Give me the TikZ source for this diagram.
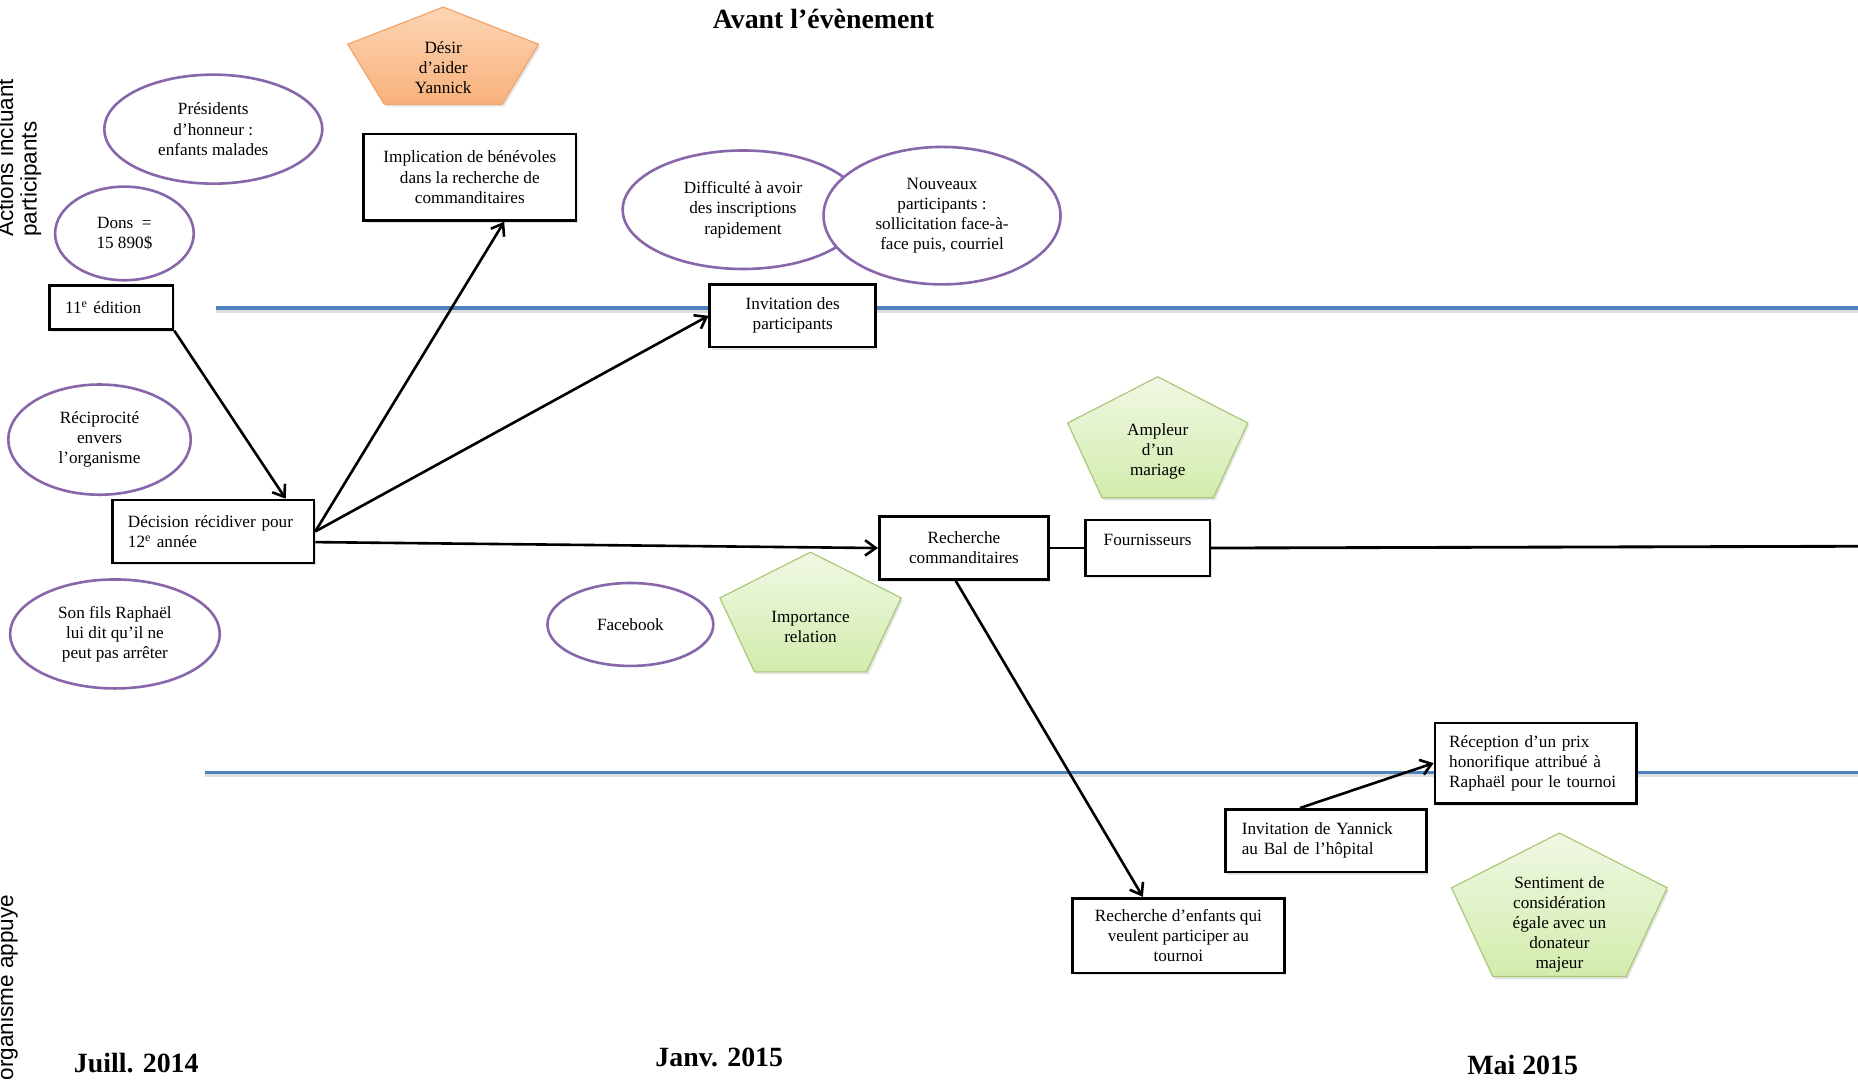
\documentclass[tikz,border=0pt]{standalone}
\usepackage{fontspec}
\setmainfont{Liberation Serif}
\setsansfont{Liberation Sans}
\usetikzlibrary{arrows.meta,shapes.geometric,shadows}

\definecolor{bandblue}{HTML}{4F81BD}
\definecolor{ovalpurple}{HTML}{8767AA}
\definecolor{greentop}{HTML}{F0F8E4}
\definecolor{greenbot}{HTML}{D2ECAC}
\definecolor{greenline}{HTML}{A8C878}
\definecolor{orangetop}{HTML}{FCD5B4}
\definecolor{orangebot}{HTML}{F8B17C}
\definecolor{orangeline}{HTML}{F3A469}

\newcommand\bodyfont{\fontsize{14.5}{17}\selectfont}
\newcommand\headfont{\fontsize{23.5}{28}\selectfont\bfseries}

% pentagon: name, centre x, top y, width, height, style, text y, text
\newcommand\pentagone[8]{%
  \path[#6] (#2,#3) -- ({#2+#4/2},{#3+0.382*#5}) -- ({#2+0.309*#4},{#3+#5})
    -- ({#2-0.309*#4},{#3+#5}) -- ({#2-#4/2},{#3+0.382*#5}) -- cycle;
  \node[pentext] (#1) at (#2,#7) {#8};
}

\tikzset{
  softshadow/.style={drop shadow={opacity=0.22, shadow xshift=1.5pt, shadow yshift=-2pt}},
  box/.style={draw=black, line width=2.2pt, fill=white, inner sep=0pt,
    font=\bodyfont, align=center, softshadow},
  lbox/.style={box, align=left, inner xsep=13pt},
  oval/.style={ellipse, draw=ovalpurple, line width=2.2pt, fill=white,
    inner sep=0pt, font=\bodyfont, align=center},
  pentext/.style={font=\bodyfont, align=center, inner sep=0pt},
  greenpent/.style={draw=greenline, line width=1pt, top color=greentop,
    bottom color=greenbot, softshadow},
  orangepent/.style={draw=orangeline, line width=1pt, top color=orangetop,
    bottom color=orangebot, softshadow},
  arr/.style={-{Straight Barb[length=9pt,width=13pt]}, line width=2.2pt, black},
  spine/.style={line width=2.4pt, black},
  band/.style={bandblue, line width=3pt},
  bandshadow/.style={black!25, line width=3pt, opacity=0.5},
  sidelabel/.style={font=\sffamily\fontsize{19}{21}\selectfont, rotate=90, inner sep=0pt},
  headline/.style={font=\headfont, inner sep=0pt}
}

\begin{document}
\begin{tikzpicture}[x=1pt,y=-1pt]
\useasboundingbox (0,0) rectangle (1568,912);
\clip (0,0) rectangle (1568,912);
\fill[white] (0,0) rectangle (1568,912);

% band separators
\coordinate (b1s) at (182,260);
\coordinate (b1e) at (1568,260);
\coordinate (b2s) at (173,652);
\coordinate (b2e) at (1568,652);
\draw[bandshadow] ([yshift=-2.5pt]b1s) -- ([yshift=-2.5pt]b1e);
\draw[bandshadow] ([yshift=-2.5pt]b2s) -- ([yshift=-2.5pt]b2e);
\draw[band] (b1s) -- (b1e);
\draw[band] (b2s) -- (b2e);

% headings
\node[headline] (title) at (695,16) {Avant l’évènement};
\node[headline] (d1) at (115,897) {Juill. 2014};
\node[headline] (d2) at (607,892) {Janv. 2015};
\node[headline] (d3) at (1285,899) {Mai 2015};

% side labels
\node[sidelabel, anchor=base west] (s1) at (11,200) {Actions incluant};
\node[sidelabel, anchor=base west] (s2) at (31,200) {participants};
\node[sidelabel, anchor=base east] (s3) at (11,755) {l’organisme appuyé};

% ovals
\node[oval, minimum width=184pt, minimum height=92pt] (pres) at (180,109) {Présidents\\d’honneur :\\enfants malades};
\node[oval, minimum width=117pt, minimum height=79pt] (dons) at (105,197) {Dons~~=\\15 890\$};
\node[oval, minimum width=203pt, minimum height=100pt] (diff) at (627,177) {Difficulté à avoir\\des inscriptions\\rapidement};
\node[oval, minimum width=200pt, minimum height=116pt] (nouv) at (795,182) {Nouveaux\\participants :\\sollicitation face-à-\\face puis, courriel};
\node[oval, minimum width=154pt, minimum height=93pt] (reci) at (84,371) {Réciprocité\\envers\\l’organisme};
\node[oval, minimum width=177pt, minimum height=92pt] (fils) at (97,535) {Son fils Raphaël\\lui dit qu’il ne\\peut pas arrêter};
\node[oval, minimum width=140pt, minimum height=70pt] (fb) at (532,527) {Facebook};

% pentagons
\pentagone{desir}{374}{6}{161}{82}{orangepent}{57}{Désir\\d’aider\\Yannick}
\pentagone{impo}{684}{466}{153}{101}{greenpent}{529}{Importance\\relation}
\pentagone{ampl}{977}{318}{152}{102}{greenpent}{381}{Ampleur\\d’un\\mariage}
\pentagone{sent}{1316}{703}{182}{121}{greenpent}{780}{Sentiment de\\considération\\égale avec un\\donateur\\majeur}

% boxes
\node[lbox, text width=78pt, minimum height=37pt] (e11) at (94,259.5) {11\textsuperscript{e} édition};
\node[lbox, text width=144pt, minimum height=53pt] (dec) at (180,448.5) {Décision récidiver pour\\12\textsuperscript{e} année};
\node[box, minimum width=179pt, minimum height=73pt] (impl) at (396.5,149.5) {Implication de bénévoles\\dans la recherche de\\commanditaires};
\node[box, minimum width=140pt, minimum height=53pt] (invp) at (669,266.5) {Invitation des\\participants};
\node[box, minimum width=143pt, minimum height=53pt] (rc) at (813.5,462.5) {Recherche\\commanditaires};
\node[box, minimum width=105pt, minimum height=47pt,
  label={[font=\bodyfont, inner sep=0pt, yshift=6.5pt]center:Fournisseurs}] (fo) at (968.5,462.5) {};
\node[box, minimum width=179pt, minimum height=63pt] (enf) at (994.5,789.5) {Recherche d’enfants qui\\veulent participer au\\tournoi};
\node[lbox, inner xsep=14pt, text width=142pt, minimum height=53pt] (invy) at (1119,709.5) {Invitation de Yannick\\au Bal de l’hôpital};
\node[lbox, inner xsep=12pt, text width=146pt, minimum height=68pt] (rec) at (1296,644) {Réception d’un prix\\honorifique attribué à\\Raphaël pour le tournoi};

% connectors
\coordinate (rend) at (1568,461);
\draw[arr] (e11.south east) -- ([xshift=-25pt]dec.north east);
\draw[arr] (dec.east) -- ([xshift=29pt]impl.south);
\draw[arr] (dec.east) -- (invp.west);
\draw[arr] ([yshift=-9pt]dec.east) -- (rc.west);
\draw[spine] (rc.east) -- (fo.west);
\draw[spine] (fo.east) -- (rend);
\draw[arr] ([xshift=-7pt]rc.south) -- ([xshift=-30pt]enf.north);
\draw[arr] ([xshift=-22pt]invy.north) -- (rec.west);
\end{tikzpicture}
\end{document}
